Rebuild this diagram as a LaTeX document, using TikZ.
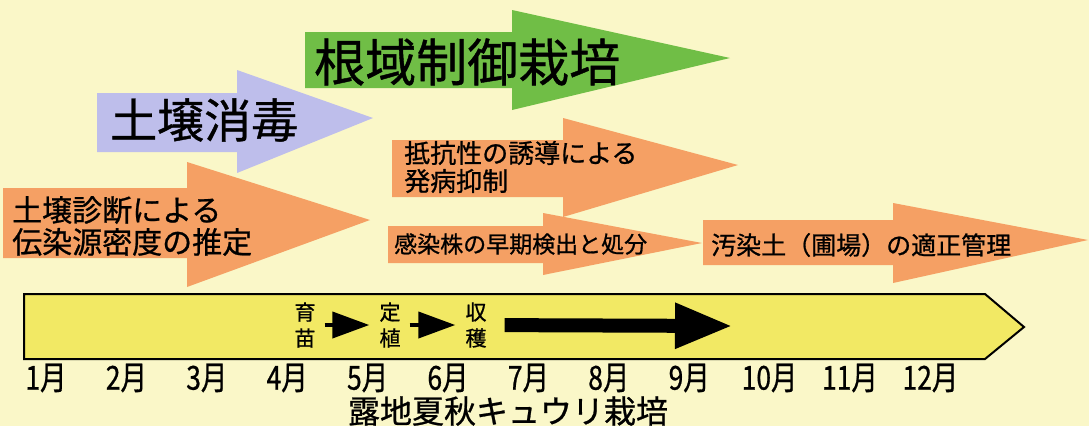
\documentclass[tikz,border=0pt]{standalone}
\usepackage{fontspec}
\setmainfont[FakeBold=0.8]{Noto Sans CJK JP}
\usetikzlibrary{arrows.meta}
\definecolor{bgyellow}{RGB}{250,247,200}
\definecolor{rootgreen}{RGB}{112,190,70}
\definecolor{soilblue}{RGB}{190,190,235}
\definecolor{riskorange}{RGB}{245,160,100}
\definecolor{baryellow}{RGB}{242,233,100}
\newcommand{\fs}[2]{\fontsize{#1}{#2}\selectfont}

\begin{document}
\begin{tikzpicture}[x=1pt,y=-1pt,
  lbl/.style={anchor=west,inner sep=0pt,align=left},
  month/.style={inner sep=0pt,font=\fs{33}{33}},
  stage/.style={inner sep=2pt,align=center,font=\fs{21}{26}},
  flow/.style={line width=4pt,-{Triangle[length=37pt,width=26pt]},
    shorten <=7pt,shorten >=8pt}]
  \fill[bgyellow] (0,0) rectangle (1089,426);
  \useasboundingbox (0,0) rectangle (1089,426);
  % big arrows
  \fill[rootgreen]
   (305,32) -- (512,32) -- (512,10) -- (730,58) -- (512,110) -- (512,88) -- (305,88) -- cycle;
  \fill[soilblue]
   (97,93) -- (237,93) -- (237,70) -- (373,118) -- (237,173) -- (237,152) -- (97,152) -- cycle;
  \fill[riskorange]
   (3,188) -- (187,188) -- (187,162) -- (370,220) -- (187,287) -- (187,258) -- (3,258) -- cycle;
  \fill[riskorange]
   (392,140) -- (563,140) -- (563,118) -- (738,165) -- (563,217) -- (563,197) -- (392,197) -- cycle;
  \fill[riskorange]
   (388,226) -- (543,226) -- (543,213) -- (702,243) -- (543,275) -- (543,263) -- (388,263) -- cycle;
  \fill[riskorange]
   (703,220) -- (893,220) -- (893,203) -- (1088,240) -- (893,283) -- (893,265) -- (703,265) -- cycle;
  \node[lbl,font=\fs{51}{51}] (root) at (314,62) {根域制御栽培};
  \node[lbl,font=\fs{47}{47}] (disinfect) at (110,120) {土壌消毒};
  \node[lbl,font=\fs{30}{32}] (diagnosis) at (12,226) {土壌診断による\\伝染源密度の推定};
  \node[lbl,font=\fs{26}{28}] (resist) at (404,167) {抵抗性の誘導による\\発病抑制};
  \node[lbl,font=\fs{23}{23}] (detect) at (394,244) {感染株の早期検出と処分};
  \node[lbl,font=\fs{25}{25}] (manage) at (711,245) {汚染土（圃場）の適正管理};
  % cultivation bar
  \filldraw[fill=baryellow,draw=black,line width=2pt]
   (24,294) -- (985,294) -- (1024,327) -- (985,359) -- (24,359) -- cycle;
  \node[stage] (nursery) at (305,325) {育\\苗};
  \node[stage] (plant)   at (390,325) {定\\植};
  \node[stage] (harvest) at (476,325) {収\\穫};
  \coordinate (harvestend) at (733,326);
  \draw[flow] (nursery) -- (plant);
  \draw[flow] (plant) -- (harvest);
  \draw[line width=14pt,-{Triangle[length=58pt,width=42pt]},shorten <=16pt]
   (harvest) -- (harvestend);
  \foreach \m in {1,...,12}
    \node[month] (m\m) at ({46+80.4*(\m-1)},378) {\scalebox{0.8}[1]{{\m}月}};
  \node[inner sep=0pt,font=\fs{32}{32}] (title) at (508,411) {露地夏秋キュウリ栽培};
\end{tikzpicture}
\end{document}
